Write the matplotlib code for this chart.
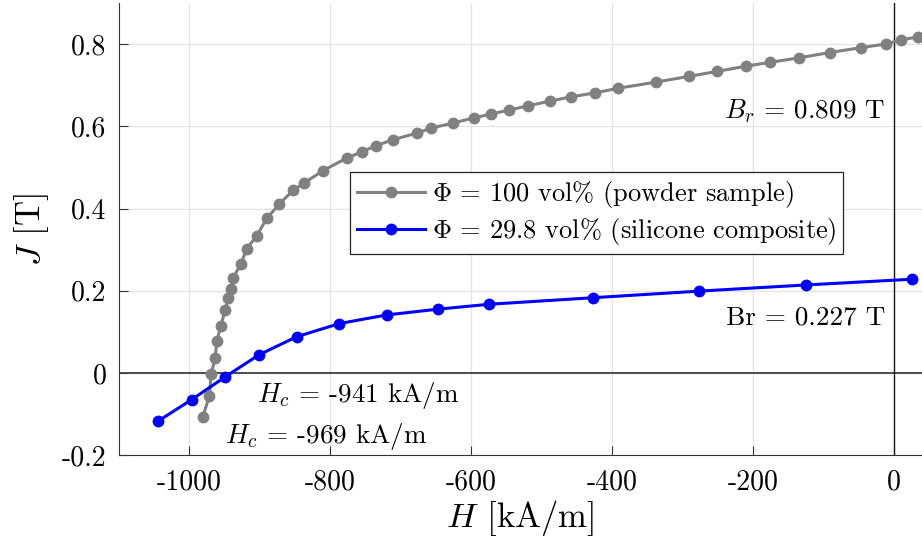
import numpy as np
import matplotlib as mpl
mpl.use('Agg')
import matplotlib.pyplot as plt

# demagnetisation curves, H in kA/m, J in T
H_powder = [-981.0, -971.6, -969.2, -963.5, -961.1, -955.5, -949.4, -944.7,
            -941.3, -937.6, -926.7, -918.6, -904.4, -890.2, -872.3, -852.5,
            -837.3, -810.8, -776.7, -755.5, -735.2, -710.6, -676.6, -657.2,
            -626.4, -596.2, -572.5, -546.1, -520.0, -487.4, -458.6, -423.5,
            -391.5, -338.0, -290.8, -251.1, -209.4, -176.3, -134.8, -91.2,
            -46.2, -10.8, 10.5, 34.0]
J_powder = [-0.107, -0.057, -0.003, 0.035, 0.077, 0.114, 0.152, 0.183,
            0.203, 0.232, 0.266, 0.302, 0.334, 0.376, 0.411, 0.445,
            0.462, 0.492, 0.523, 0.538, 0.553, 0.568, 0.584, 0.596,
            0.608, 0.621, 0.630, 0.640, 0.650, 0.662, 0.672, 0.682,
            0.693, 0.708, 0.722, 0.734, 0.747, 0.756, 0.767, 0.780,
            0.792, 0.801, 0.811, 0.818]

H_comp = [-1044.0, -996.6, -949.4, -901.2, -847.7, -787.2, -720.0, -647.7,
          -574.5, -427.0, -276.6, -125.2, 25.5]
J_comp = [-0.117, -0.065, -0.010, 0.044, 0.088, 0.120, 0.141, 0.155,
          0.167, 0.183, 0.199, 0.214, 0.228]

Br_powder = 0.809
Br_comp = 0.227
Hc_powder = -969
Hc_comp = -941

xticks = [-1000, -800, -600, -400, -200, 0]
xticklabels = ['-1000', '-800', '-600', '-400', '-200', '0']
yticks = [-0.2, 0, 0.2, 0.4, 0.6, 0.8]
yticklabels = ['-0.2', '0', '0.2', '0.4', '0.6', '0.8']

plt.rcParams['font.family'] = 'serif'
plt.rcParams['font.serif'] = ['cmr10']
plt.rcParams['mathtext.fontset'] = 'cm'
plt.rcParams['axes.unicode_minus'] = False

fig = plt.figure(figsize=(9.22, 5.46), dpi=100)
ax = fig.add_axes([0.129, 0.1667, 0.871, 0.8273])

ax.axhline(0, color='#404040', lw=1.3, zorder=1)
ax.axvline(0, color='#1a1a1a', lw=1.0, zorder=1)

ax.plot(H_powder, J_powder, '-o', color='#808080', lw=2.2, ms=7.5,
        label=r'$\Phi$ = 100 vol% (powder sample)', zorder=3)
ax.plot(H_comp, J_comp, '-o', color='#0000ff', lw=2.2, ms=7.5,
        label=r'$\Phi$ = 29.8 vol% (silicone composite)', zorder=3)

fs = 19.5
ax.text(-12, 0.636, r'$B_r$ = %.3f T' % Br_powder, fontsize=fs,
        ha='right', va='center')
ax.text(-12, 0.134, 'Br = %.3f T' % Br_comp, fontsize=fs,
        ha='right', va='center')
ax.text(-904, -0.054, r'$H_c$ = %d kA/m' % Hc_comp, fontsize=fs,
        ha='left', va='center')
ax.text(-949, -0.154, r'$H_c$ = %d kA/m' % Hc_powder, fontsize=fs,
        ha='left', va='center')

ax.set_xlim(-1100, 40)
ax.set_ylim(-0.2, 0.9)
ax.set_xticks(xticks)
ax.set_xticklabels(xticklabels)
ax.set_yticks(yticks)
ax.set_yticklabels(yticklabels)
ax.tick_params(direction='in', length=6.5, width=0.8, labelsize=20,
               color='#333333')
ax.tick_params(axis='x', pad=10)
ax.tick_params(axis='y', pad=9)
ax.grid(True, color='#e3e3e3', lw=0.9)
ax.set_axisbelow(True)
for side in ['top', 'right']:
    ax.spines[side].set_visible(False)
for side in ['left', 'bottom']:
    ax.spines[side].set_color('#333333')
    ax.spines[side].set_linewidth(0.8)

ax.set_xlabel(r'$H$ [kA/m]', fontsize=25, labelpad=2)
ax.set_ylabel(r'$J$ [T]', fontsize=25, labelpad=8)

leg = ax.legend(loc='upper right', bbox_to_anchor=(0.902, 0.626), fontsize=19,
                fancybox=False, framealpha=1, edgecolor='#262626',
                handlelength=2.6, handletextpad=0.25, borderpad=0.25,
                labelspacing=0.25, borderaxespad=0)
leg.get_frame().set_linewidth(0.9)

fig.savefig('out.png', dpi=100)
